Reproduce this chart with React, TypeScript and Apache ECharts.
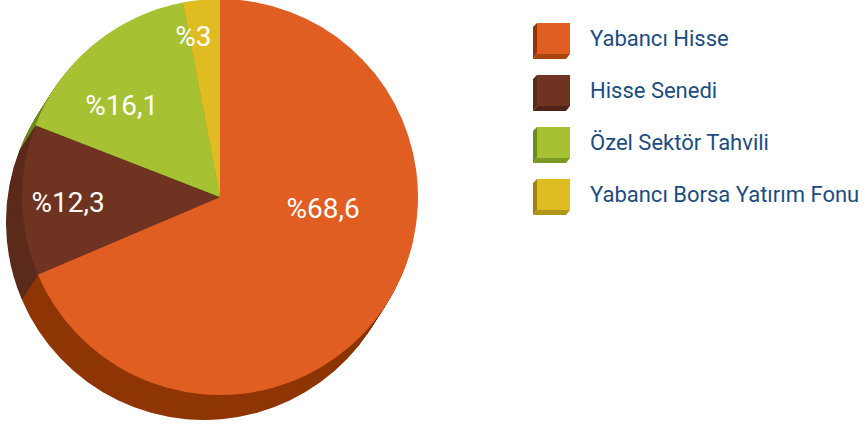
import React, { useEffect, useRef } from "react";
import * as echarts from "echarts";

const categories = ["Yabancı Hisse", "Hisse Senedi", "Özel Sektör Tahvili", "Yabancı Borsa Yatırım Fonu"];
const values = [68.6, 12.3, 16.1, 3];
const topColors = ["#e05e22", "#6f3321", "#a6c232", "#dfbd22"];
const sideColors = ["#8e3604", "#5b2b1b", "#6c8a1e", "#9a8414"];
const cubeBottomColors = ["#a8440e", "#4f2416", "#7a9a22", "#b09616"];
const labelShifts = [[18, -45], [-50, 4], [-33, -13], [-17, -59]];

const CX = 220;
const CY = 197;
const R = 198;
const DEPTH_X = -16;
const DEPTH_Y = 25;
const STEPS = 25;

const LEG_LEFT = 537;
const LEG_TOP = 23;
const LEG_W = 33;
const LEG_H = 31;
const LEG_GAP = 21;

export default function App() {
  const ref = useRef<HTMLDivElement>(null);
  useEffect(() => {
    if (!ref.current) return;
    const chart = echarts.init(ref.current, undefined, { renderer: "svg" });
    const sideSeries: any[] = [];
    for (let s = STEPS; s >= 1; s--) {
      sideSeries.push({
        type: "pie",
        silent: true,
        z: 1,
        center: [CX + (DEPTH_X * s) / STEPS, CY + (DEPTH_Y * s) / STEPS],
        radius: R,
        startAngle: 90,
        clockwise: true,
        label: { show: false },
        labelLine: { show: false },
        emphasis: { disabled: true },
        data: values.map((v, i) => ({
          name: categories[i] + "-side",
          value: v,
          itemStyle: { color: sideColors[i] },
        })),
      });
    }
    const topSeries = {
      type: "pie",
      silent: true,
      z: 2,
      center: [CX, CY],
      radius: R,
      startAngle: 90,
      clockwise: true,
      emphasis: { disabled: true },
      label: {
        show: true,
        position: "inside",
        color: "#ffffff",
        fontSize: 28,
        fontFamily: "Roboto",
        fontWeight: "normal",
        formatter: (p: any) => "%" + String(p.value).replace(".", ","),
      },
      labelLine: { show: false },
      labelLayout: (p: any) => ({ dx: labelShifts[p.dataIndex][0], dy: labelShifts[p.dataIndex][1] }),
      data: values.map((v, i) => ({
        name: categories[i],
        value: v,
        itemStyle: { color: topColors[i] },
      })),
    };
    const graphics: any[] = [];
    categories.forEach((_, i) => {
      const y = LEG_TOP + i * (LEG_H + LEG_GAP);
      const x = LEG_LEFT;
      graphics.push({
        type: "polygon",
        silent: true,
        shape: { points: [[x, y], [x - 4, y + 4], [x - 4, y + LEG_H + 5], [x, y + LEG_H]] },
        style: { fill: sideColors[i] },
      });
      graphics.push({
        type: "polygon",
        silent: true,
        shape: { points: [[x, y + LEG_H], [x - 4, y + LEG_H + 5], [x + LEG_W - 4, y + LEG_H + 5], [x + LEG_W, y + LEG_H]] },
        style: { fill: cubeBottomColors[i] },
      });
    });
    chart.setOption({
      animation: false,
      backgroundColor: "#ffffff",
      legend: {
        orient: "vertical",
        left: LEG_LEFT,
        top: LEG_TOP,
        padding: 0,
        itemWidth: LEG_W,
        itemHeight: LEG_H,
        itemGap: LEG_GAP,
        icon: "rect",
        selectedMode: false,
        data: categories.map((c, i) => ({ name: c, itemStyle: { color: topColors[i] } })),
        textStyle: {
          color: "#1c4d80",
          fontSize: 22,
          fontWeight: "normal",
          fontFamily: "Roboto",
          padding: [3, 0, 0, 15],
        },
      },
      graphic: graphics,
      series: [...sideSeries, topSeries],
    });
    return () => chart.dispose();
  }, []);
  return <div ref={ref} style={{ position: "absolute", left: 0, top: 0, width: 865, height: 426 }} />;
}
